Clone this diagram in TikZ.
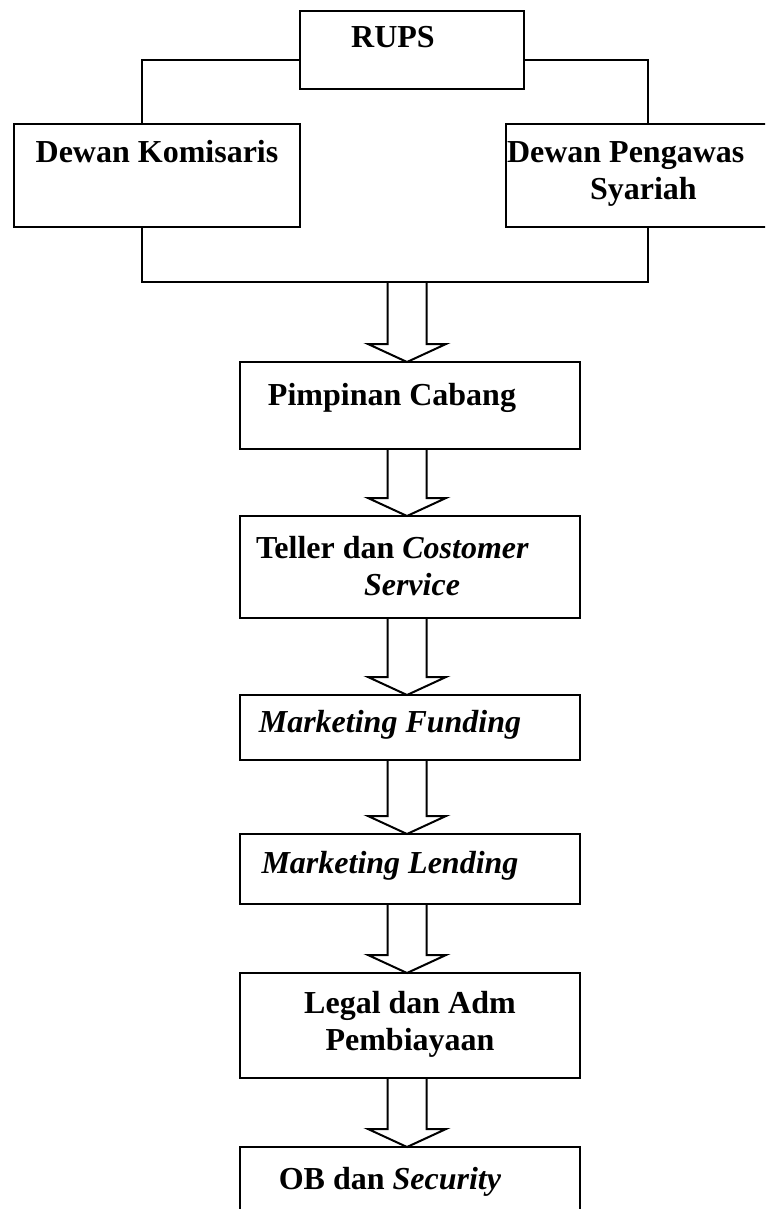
\documentclass[tikz,border=0pt]{standalone}
\usepackage{fontspec}
\setmainfont{Liberation Serif}
\usetikzlibrary{calc}

% hollow block arrow, shaft from #1 down to the tip at #2
\newcommand\blockarrow[2]{%
  \draw[hollow]
    ($(#1 -| ax)+(-19.5,0)$) -- ($(#2 -| ax)+(-19.5,-18)$)
    -- ($(#2 -| ax)+(-39,-18)$) -- (#2 -| ax)
    -- ($(#2 -| ax)+(39,-18)$) -- ($(#2 -| ax)+(19.5,-18)$)
    -- ($(#1 -| ax)+(19.5,0)$);
}

\begin{document}
\begin{tikzpicture}[
  x = 1pt, y = -1pt,
  line width = 2pt,
  % the boxes carry no text, the labels are set inside them
  box/.style    = {draw, inner sep=0pt, outer sep=0pt},
  lbl/.style    = {inner sep=0pt, font=\fontsize{32}{37}\selectfont\bfseries,
                   text height=22pt, text depth=7pt},
  lbltwo/.style = {inner sep=0pt, font=\fontsize{32}{37}\selectfont\bfseries},
  hollow/.style = {line join=miter},
]
\useasboundingbox (0, 0) rectangle (765, 1209);
\clip (0, 0) rectangle (765, 1209);

\coordinate (ax) at (407, 0);
\coordinate (lx) at (142, 0);
\coordinate (rx) at (648, 0);
\coordinate (ly) at (0, 60);
\coordinate (join) at (407, 282);

% --- top: RUPS and the two boards
\node[box, minimum width=224pt, minimum height=78pt] (rups) at (412, 50) {};
\node[box, minimum width=286pt, minimum height=103pt] (komisaris) at (157, 175.5) {};
\node[box, minimum width=269pt, minimum height=103pt] (pengawas) at (640.5, 175.5) {};
\node[lbl] (rupsLbl) at (393, 40) {RUPS};
\node[lbl] (komLbl) at (157, 155) {Dewan Komisaris};
\node[lbltwo, align=left, anchor=west] (pengLbl) at (506, 174)
  {Dewan Pengawas\\\hspace*{83pt}Syariah};

\draw (rups.west |- ly) -| (lx |- komisaris.north);
\draw (rups.east |- ly) -| (rx |- pengawas.north);
\draw (lx |- komisaris.south) |- (join) -| (rx |- pengawas.south);

% --- the branch office, top to bottom
\node[box, minimum width=340pt, minimum height=87pt] (pimpinan) at (410, 405.5) {};
\node[box, minimum width=340pt, minimum height=102pt] (teller) at (410, 567) {};
\node[box, minimum width=340pt, minimum height=65pt] (funding) at (410, 727.5) {};
\node[box, minimum width=340pt, minimum height=70pt] (lending) at (410, 869) {};
\node[box, minimum width=340pt, minimum height=105pt] (legal) at (410, 1025.5) {};
\node[box, minimum width=340pt, minimum height=83pt] (ob) at (410, 1188.5) {};

\node[lbl] (pimLbl) at (392, 398) {Pimpinan Cabang};
\node[lbltwo, align=left, anchor=west] (telLbl) at (255, 566.5)
  {Teller dan \textit{Costomer}\\\hspace*{108pt}\textit{Service}};
\node[lbl] (funLbl) at (390, 725) {\textit{Marketing Funding}};
\node[lbl] (lenLbl) at (390, 866) {\textit{Marketing Lending}};
\node[lbltwo, align=center] (legLbl) at (410, 1024.5) {Legal dan Adm\\Pembiayaan};
\node[lbl] (obLbl) at (390, 1182) {OB dan \textit{Security}};

\blockarrow{join}{pimpinan.north}
\blockarrow{pimpinan.south}{teller.north}
\blockarrow{teller.south}{funding.north}
\blockarrow{funding.south}{lending.north}
\blockarrow{lending.south}{legal.north}
\blockarrow{legal.south}{ob.north}

\end{tikzpicture}
\end{document}
